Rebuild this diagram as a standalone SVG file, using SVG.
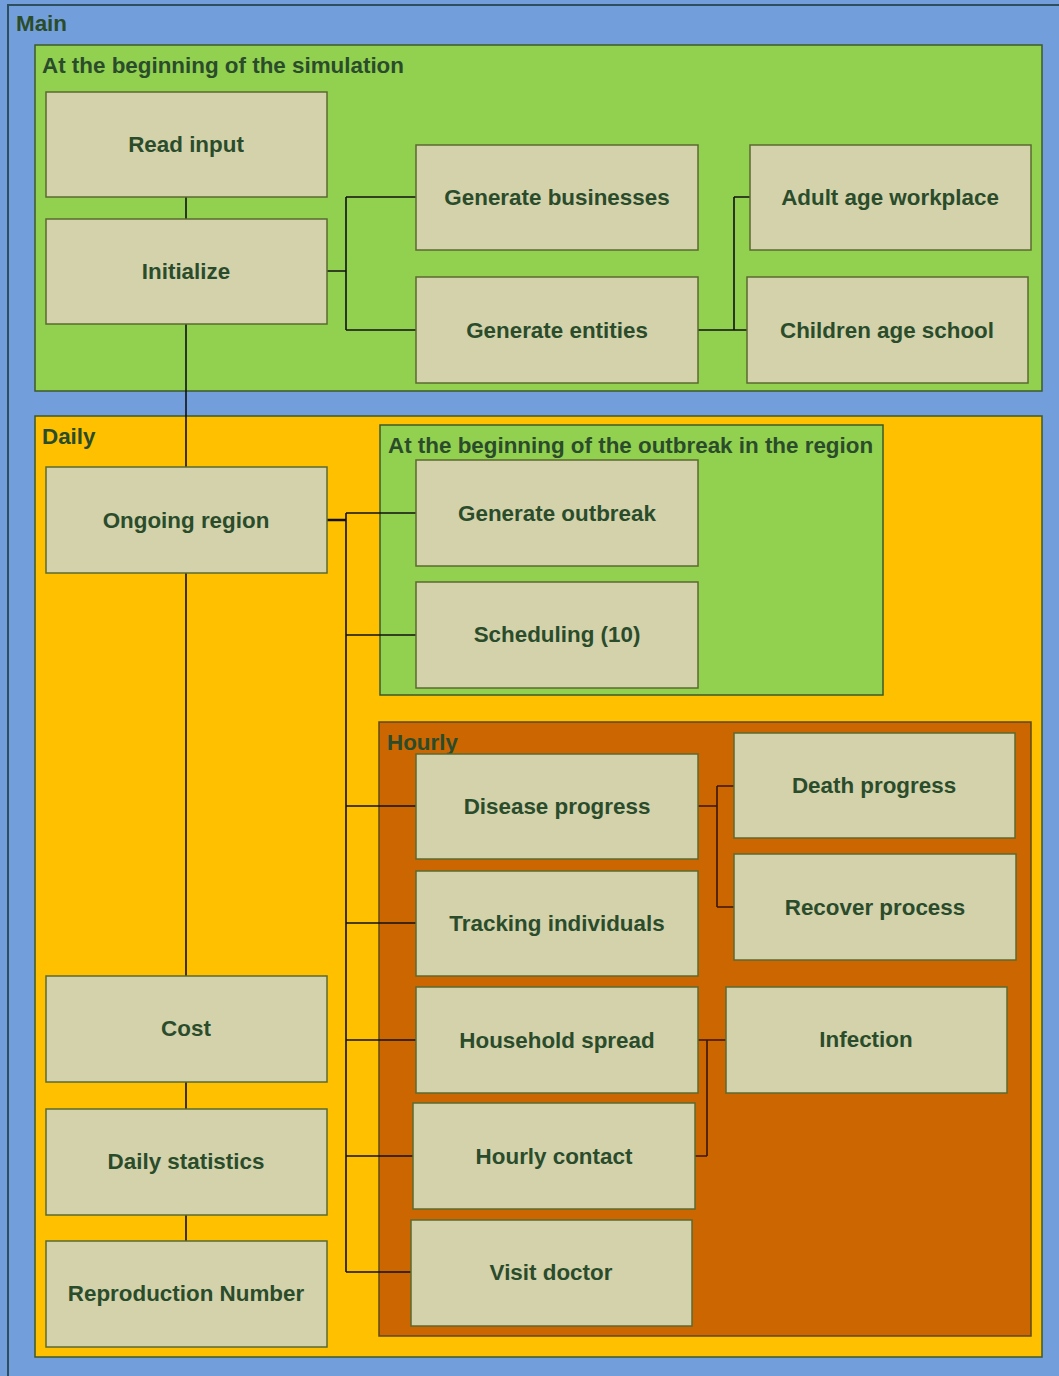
<svg xmlns="http://www.w3.org/2000/svg" width="1059" height="1376" viewBox="0 0 1059 1376">
<style>
.grp{stroke:#3c5a2a;stroke-width:1.5}
.main{fill:#729fdb;stroke:#2e4f5f;stroke-width:2}
.green{fill:#92d050}
.orange{fill:#ffc000}
.hourly{fill:#cc6600;stroke:#5e4a1a}
.box{fill:#d3d2ab;stroke:#5b6a30;stroke-width:1.5}
.lbl{font-family:"Liberation Sans",Arial,sans-serif;font-weight:bold;font-size:22.4px;fill:#2b4c2b}
.t{font-family:"Liberation Sans",Arial,sans-serif;font-weight:bold;font-size:22.4px;fill:#2b4c2b;text-anchor:middle;dominant-baseline:central}
.c{fill:none;stroke:#111;stroke-width:1.6}
</style>
<rect width="1059" height="1376" fill="#729fdb"/>
<g id="main"><rect class="main" x="8" y="5" width="1060" height="1380"/><text class="lbl" x="16" y="31">Main</text></g>
<g id="group-init"><rect class="grp green" x="35" y="45" width="1007" height="346"/><text class="lbl" x="42" y="73">At the beginning of the simulation</text></g>
<g id="group-daily"><rect class="grp orange" x="35" y="416" width="1007" height="941"/><text class="lbl" x="42" y="444">Daily</text></g>
<g id="group-outbreak"><rect class="grp green" x="380" y="425" width="503" height="270"/><text class="lbl" x="388" y="453">At the beginning of the outbreak in the region</text></g>
<g id="group-hourly"><rect class="grp hourly" x="379" y="722" width="652" height="614"/><text class="lbl" x="387" y="750">Hourly</text></g>
<g id="connectors">
<path class="c" d="M186,197V219M186,324V467M186,573V976M186,1082V1109M186,1215V1241"/>
<path class="c" d="M327,271H346M346,197V330M346,197H416M346,330H416"/>
<path class="c" d="M698,330H734M734,197V330M734,197H750M734,330H747"/>
<path class="c" d="M327,520H346" style="stroke-width:2.5"/>
<path class="c" d="M346,513V1272M346,513H416M346,635H416M346,806H416M346,923H416M346,1040H416M346,1156H413M346,1272H411"/>
<path class="c" d="M698,806H717M717,786V907M717,786H734M717,907H734" style="stroke:#3a1400"/>
<path class="c" d="M698,1040H726M707,1040V1156M695,1156H707" style="stroke:#3a1400"/>
</g>
<g id="read-input"><rect class="box" x="46" y="92" width="281" height="105"/><text class="t" x="186" y="144">Read input</text></g>
<g id="initialize"><rect class="box" x="46" y="219" width="281" height="105"/><text class="t" x="186" y="271">Initialize</text></g>
<g id="generate-businesses"><rect class="box" x="416" y="145" width="282" height="105"/><text class="t" x="557" y="197">Generate businesses</text></g>
<g id="generate-entities"><rect class="box" x="416" y="277" width="282" height="106"/><text class="t" x="557" y="330">Generate entities</text></g>
<g id="adult-age-workplace"><rect class="box" x="750" y="145" width="281" height="105"/><text class="t" x="890" y="197">Adult age workplace</text></g>
<g id="children-age-school"><rect class="box" x="747" y="277" width="281" height="106"/><text class="t" x="887" y="330">Children age school</text></g>
<g id="ongoing-region"><rect class="box" x="46" y="467" width="281" height="106"/><text class="t" x="186" y="520">Ongoing region</text></g>
<g id="generate-outbreak"><rect class="box" x="416" y="460" width="282" height="106"/><text class="t" x="557" y="513">Generate outbreak</text></g>
<g id="scheduling"><rect class="box" x="416" y="582" width="282" height="106"/><text class="t" x="557" y="634">Scheduling (10)</text></g>
<g id="disease-progress"><rect class="box" x="416" y="754" width="282" height="105"/><text class="t" x="557" y="806">Disease progress</text></g>
<g id="tracking-individuals"><rect class="box" x="416" y="871" width="282" height="105"/><text class="t" x="557" y="923">Tracking individuals</text></g>
<g id="household-spread"><rect class="box" x="416" y="987" width="282" height="106"/><text class="t" x="557" y="1040">Household spread</text></g>
<g id="hourly-contact"><rect class="box" x="413" y="1103" width="282" height="106"/><text class="t" x="554" y="1156">Hourly contact</text></g>
<g id="visit-doctor"><rect class="box" x="411" y="1220" width="281" height="106"/><text class="t" x="551" y="1272">Visit doctor</text></g>
<g id="death-progress"><rect class="box" x="734" y="733" width="281" height="105"/><text class="t" x="874" y="785">Death progress</text></g>
<g id="recover-process"><rect class="box" x="734" y="854" width="282" height="106"/><text class="t" x="875" y="907">Recover process</text></g>
<g id="infection"><rect class="box" x="726" y="987" width="281" height="106"/><text class="t" x="866" y="1039">Infection</text></g>
<g id="cost"><rect class="box" x="46" y="976" width="281" height="106"/><text class="t" x="186" y="1028">Cost</text></g>
<g id="daily-statistics"><rect class="box" x="46" y="1109" width="281" height="106"/><text class="t" x="186" y="1161">Daily statistics</text></g>
<g id="reproduction-number"><rect class="box" x="46" y="1241" width="281" height="106"/><text class="t" x="186" y="1293">Reproduction Number</text></g>
</svg>
